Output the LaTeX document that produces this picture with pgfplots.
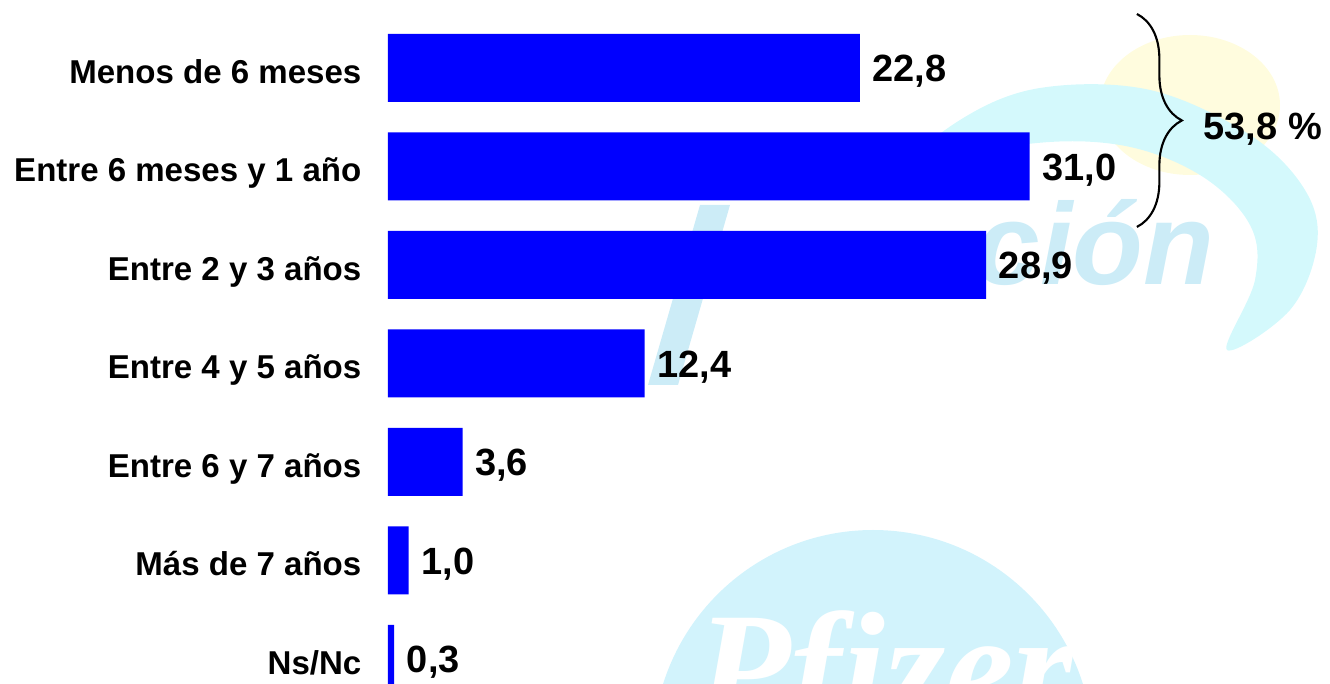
\documentclass[border=0pt]{standalone}
\usepackage{fontspec}
\setmainfont{Liberation Sans}
\newfontfamily\logofont{Liberation Serif}
\usepackage{pgfplots}
\usepackage{pgfplotstable}
\pgfplotsset{compat=1.18}
\usetikzlibrary{decorations.pathreplacing}

\definecolor{barblue}{RGB}{0,0,255}
\definecolor{wmcyan}{RGB}{210,243,252}
\definecolor{wmband}{RGB}{212,249,252}
\definecolor{wmyellow}{RGB}{255,252,222}
\definecolor{wmtext}{RGB}{204,236,247}

% tiempo (porcentaje)
\pgfplotstableread{
idx value label
0 22.8 22,8
1 31.0 31,0
2 28.9 28,9
3 12.4 12,4
4 3.6 3,6
5 1.0 1,0
6 0.3 0,3
}\tiempo

\begin{document}
\begin{tikzpicture}
\path[use as bounding box, clip] (0,0) rectangle (13.3cm,6.84cm);

% faint logo watermark in the background
\fill[wmyellow] (11.9cm,5.79cm) ellipse (0.9cm and 0.7cm);
\fill[wmband] plot[smooth cycle, tension=0.6] coordinates {
  (9.00cm,5.09cm) (9.60cm,5.64cm) (10.40cm,5.96cm) (11.50cm,5.94cm)
  (12.50cm,5.49cm) (13.05cm,4.94cm) (13.17cm,4.39cm) (12.90cm,3.74cm)
  (12.27cm,3.34cm) (12.55cm,4.04cm) (12.50cm,4.59cm) (12.00cm,5.09cm)
  (11.20cm,5.39cm) (10.20cm,5.39cm)};
\fill[wmtext] (7.00cm,4.79cm) -- (7.30cm,4.79cm) -- (6.78cm,2.99cm) -- (6.48cm,2.99cm) -- cycle;
\node[text=wmtext, font=\fontsize{33}{33}\selectfont\bfseries\itshape, anchor=base west, inner sep=0pt] at (9.75cm,3.99cm) {ción};
\fill[wmcyan] (8.73cm,-0.66cm) circle (2.2cm);
\node[text=white, font=\logofont\fontsize{44}{44}\selectfont\bfseries\itshape, anchor=base, inner sep=0pt] at (8.85cm,-0.36cm) {Pfizer};

\begin{axis}[
    at={(8.59cm,3.42cm)}, anchor=center,
    scale only axis,
    width=9.42cm, height=6.84cm,
    xmin=0, xmax=45.51,
    ymin=-0.690, ymax=6.254,
    y dir=reverse,
    xbar, bar width=0.68cm, bar shift=0pt,
    clip=false,
    axis line style={draw=none},
    tick style={draw=none},
    xtick=\empty,
    ytick={0,...,6},
    yticklabels={Menos de 6 meses, Entre 6 meses y 1 año, Entre 2 y 3 años, Entre 4 y 5 años, Entre 6 y 7 años, Más de 7 años, Ns/Nc},
    yticklabel style={font=\fontsize{9.4}{11}\selectfont\bfseries, anchor=base east, inner sep=0pt, xshift=-0.11cm, yshift=-0.153cm},
    point meta=explicit symbolic,
    nodes near coords,
    every node near coord/.append style={font=\fontsize{10.8}{13}\selectfont\bfseries, text=black, anchor=base west, inner sep=0pt, xshift=0.12cm, yshift=-0.136cm},
]
\addplot[fill=barblue, draw=none] table[x=value, y=idx, meta=label] {\tiempo};

\draw[line width=0.6pt, decorate, decoration={brace, amplitude=0.45cm}]
    (axis cs:36.18,-0.548) -- (axis cs:36.18,1.614);
\node[anchor=base west, inner sep=0pt, yshift=-0.136cm, font=\fontsize{10.8}{13}\selectfont\bfseries]
    at (axis cs:39.37,0.584) {53,8 \%};
\end{axis}
\end{tikzpicture}
\end{document}
